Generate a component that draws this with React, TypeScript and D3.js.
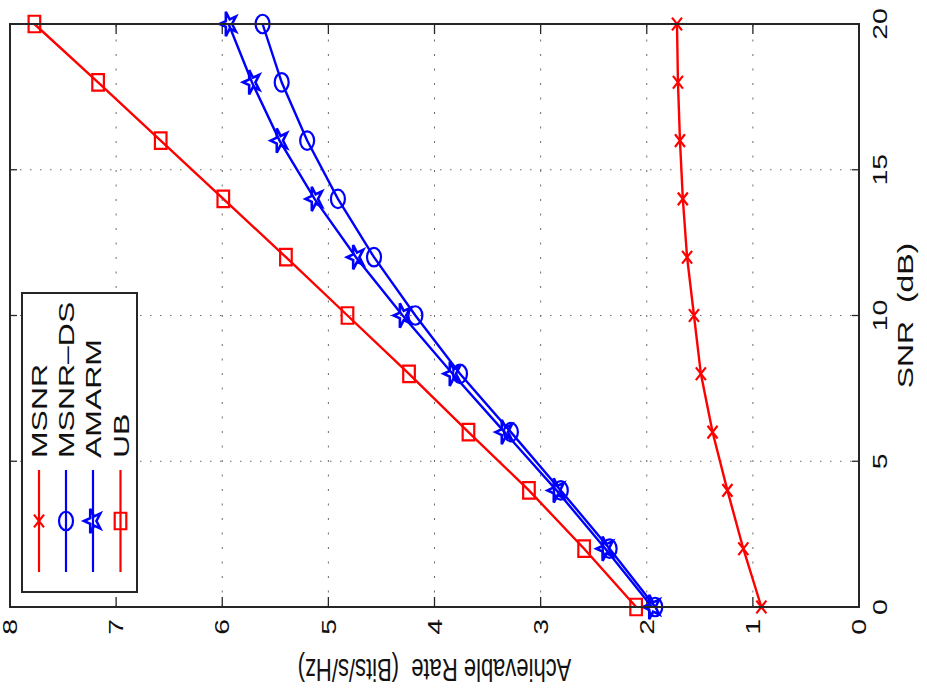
import React from "react";
import * as d3 from "d3";

const snr = [0, 2, 4, 6, 8, 10, 12, 14, 16, 18, 20];
const msnr = [0.92, 1.09, 1.24, 1.38, 1.49, 1.555, 1.62, 1.66, 1.687, 1.706, 1.715];
const msnrDs = [1.92, 2.35, 2.81, 3.28, 3.76, 4.18, 4.57, 4.91, 5.2, 5.44, 5.62];
const amarm = [1.95, 2.39, 2.85, 3.34, 3.83, 4.3, 4.74, 5.13, 5.46, 5.72, 5.94];
const ub = [2.1, 2.59, 3.11, 3.68, 4.24, 4.82, 5.4, 5.99, 6.58, 7.17, 7.77];

const snrTicks = [0, 5, 10, 15, 20];
const rateTicks = [0, 1, 2, 3, 4, 5, 6, 7, 8];
const seriesNames = ["MSNR", "MSNR–DS", "AMARM", "UB"];
const seriesColors = ["#ff0000", "#0000ff", "#0000ff", "#ff0000"];
const seriesMarkers = ["x", "o", "star", "square"];
const seriesData = [msnr, msnrDs, amarm, ub];

const FONT = "'Liberation Sans', Arial, Helvetica, sans-serif";
const S = 1.42; // horizontal stretch of the original figure

function starPath(R: number) {
  const r = R * 0.382;
  const pts: string[] = [];
  for (let i = 0; i < 10; i++) {
    const rad = i % 2 === 0 ? R : r;
    const a = -Math.PI / 2 + (i * Math.PI) / 5;
    pts.push(`${(rad * Math.cos(a)).toFixed(2)},${(rad * Math.sin(a)).toFixed(2)}`);
  }
  return "M" + pts.join("L") + "Z";
}

function Marker({ type, u, v, color }: { type: string; u: number; v: number; color: string }) {
  const common = {
    fill: "none",
    stroke: color,
    strokeWidth: 2.2,
    vectorEffect: "non-scaling-stroke" as any,
  };
  const tr = `translate(${u},${v}) scale(${S},1)`;
  if (type === "x") return <path transform={tr} d="M-4.5,-5L4.5,5M-4.5,5L4.5,-5" {...common} />;
  if (type === "o") return <ellipse transform={tr} cx={0} cy={0} rx={6.5} ry={7} {...common} />;
  if (type === "square") return <rect transform={tr} x={-5.8} y={-5.8} width={11.6} height={11.6} {...common} />;
  return <path transform={tr} d={starPath(9)} {...common} strokeWidth={2.6} />;
}

export default function App() {
  const W = 927;
  const H = 700;
  const x = d3.scaleLinear().domain([0, 20]).range([93, 676]);
  const y = d3.scaleLinear().domain([0, 8]).range([859, 10]);
  const [u0, u1] = x.range();
  const [v0, v1] = [y(8), y(0)];

  const line = d3
    .line<number>()
    .x((_, i) => x(snr[i]))
    .y((d) => y(d));

  const legendRows = [39, 66, 93, 120.5];
  const pre = { whiteSpace: "pre" } as any;

  return (
    <svg
      width={W}
      height={H}
      style={{ position: "absolute", left: 0, top: 0, background: "#fff" }}
      fontFamily={FONT}
    >
      <rect x={0} y={0} width={W} height={H} fill="#fff" />
      <g transform={`translate(0,${H}) rotate(-90)`}>
        {/* grid */}
        {snrTicks
          .filter((t) => t !== 0 && t !== 20)
          .map((t) => (
            <line key={"gs" + t} x1={x(t)} x2={x(t)} y1={v0} y2={v1} stroke="#6a6a6a" strokeWidth={1} strokeDasharray="1.5,8.5" />
          ))}
        {rateTicks
          .filter((t) => t !== 0 && t !== 8)
          .map((t) => (
            <line key={"gr" + t} x1={u0} x2={u1} y1={y(t)} y2={y(t)} stroke="#6a6a6a" strokeWidth={1} strokeDasharray="2,12.5" />
          ))}
        {/* ticks */}
        {snrTicks.map((t) => (
          <g key={"ts" + t}>
            <line x1={x(t)} x2={x(t)} y1={v1} y2={v1 - 7} stroke="#262626" strokeWidth={1.3} />
            <line x1={x(t)} x2={x(t)} y1={v0} y2={v0 + 7} stroke="#262626" strokeWidth={1.3} />
          </g>
        ))}
        {rateTicks.map((t) => (
          <g key={"tr" + t}>
            <line x1={u0} x2={u0 + 10} y1={y(t)} y2={y(t)} stroke="#262626" strokeWidth={1.3} />
            <line x1={u1} x2={u1 - 10} y1={y(t)} y2={y(t)} stroke="#262626" strokeWidth={1.3} />
          </g>
        ))}
        {/* series lines */}
        {seriesData.map((d, i) => (
          <path key={"l" + i} d={line(d) || ""} fill="none" stroke={seriesColors[i]} strokeWidth={2.4} />
        ))}
        {/* markers */}
        {seriesData.map((d, i) =>
          d.map((val, j) => (
            <Marker key={`m${i}-${j}`} type={seriesMarkers[i]} u={x(snr[j])} v={y(val)} color={seriesColors[i]} />
          ))
        )}
        {/* axes box */}
        <rect x={u0} y={v0} width={u1 - u0} height={v1 - v0} fill="none" stroke="#262626" strokeWidth={2} />
        {/* SNR tick labels */}
        {snrTicks.map((t) => (
          <text key={"ls" + t} transform={`translate(${x(t)},887) scale(${S},1)`} textAnchor="middle" fontSize={20} fill="#111">
            {t}
          </text>
        ))}
        {/* rate tick labels */}
        {rateTicks.map((t) => (
          <text key={"lr" + t} transform={`translate(81,${y(t) + 7.2}) scale(${S},1)`} textAnchor="end" fontSize={20} fill="#111">
            {t}
          </text>
        ))}
        {/* axis labels */}
        <text transform={`translate(${(u0 + u1) / 2},913) scale(${S},1)`} textAnchor="middle" fontSize={22.5} fill="#111" style={pre}>
          {"SNR  (dB)"}
        </text>
        <text
          transform={`translate(41,${(v0 + v1) / 2}) rotate(-90) scale(1,${S})`}
          textAnchor="middle"
          fontSize={22}
          fill="#111"
          style={pre}
        >
          {"Achievable Rate  (Bits/s/Hz)"}
        </text>
        {/* legend */}
        <rect x={108} y={22} width={299} height={115} fill="#fff" stroke="#262626" strokeWidth={2} />
        {seriesNames.map((name, i) => (
          <g key={"lg" + i}>
            <line x1={128} x2={230} y1={legendRows[i]} y2={legendRows[i]} stroke={seriesColors[i]} strokeWidth={2.2} />
            <Marker type={seriesMarkers[i]} u={179} v={legendRows[i]} color={seriesColors[i]} />
            <text transform={`translate(242,${legendRows[i] + 8}) scale(${S},1)`} fontSize={22.5} fill="#111">
              {name}
            </text>
          </g>
        ))}
      </g>
    </svg>
  );
}
